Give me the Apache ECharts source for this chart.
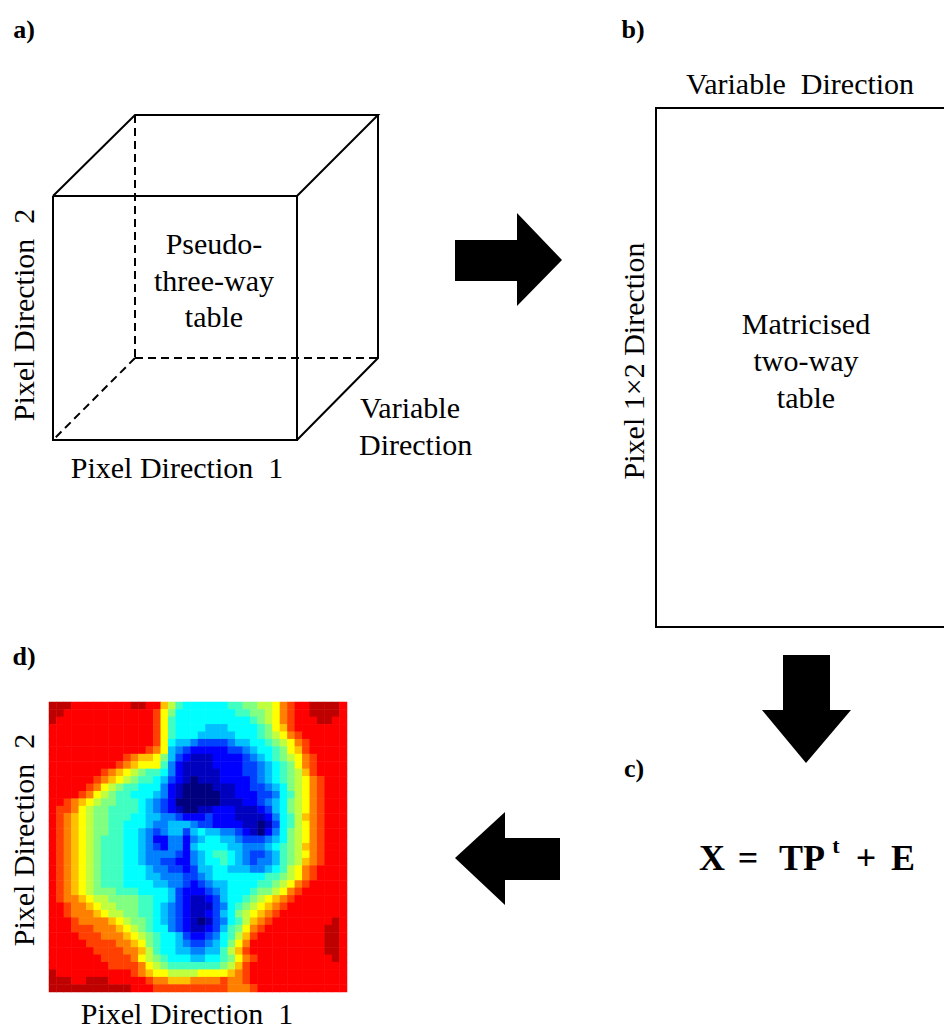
<!DOCTYPE html>
<html>
<head>
<meta charset="utf-8">
<script src="https://cdn.jsdelivr.net/npm/echarts@6/dist/echarts.min.js"></script>
<style>
  html, body { margin: 0; padding: 0; background: #ffffff; }
  #main { width: 944px; height: 1031px; }
</style>
</head>
<body>
<div id="main"></div>
<script>
// Score map of panel d): one string per image row (top to bottom), one hex digit per pixel column.
// 0 = lowest (deep blue) ... f = highest (dark red). Spaces are only for readability.
const scoreRows = [
  "fffee eeeee effee b97 66666 67 788 99 a c d ee ffff e",
  "ffeee eeeee eeeed a86 66666 66 778 89 a c d ee ffff e",
  "feeee eeeee eeeed a76 66666 66 667 89 a c d ee effe e",
  "eeeee eeeee eeeed a76 66655 56 666 78 a b d ee eeee e",
  "eeeee eeeee eeeed a76 66555 55 666 78 9 a c de eeee e",
  "eeeee eeeee eeeed a65 54333 34 556 67 8 9 a cd eeee e",
  "eeeee eeeee eeedc a54 32222 23 345 66 7 8 a bd eeee e",
  "eeeee eeeee dcbba 853 21112 22 234 56 7 8 9 ac deee e",
  "eeeee eeeed cbaaa 742 11112 22 233 45 6 7 8 ac deee e",
  "eeeee eedcb a9877 642 11111 22 233 45 6 7 8 9b deee e",
  "eeeee edcba 98776 532 10111 22 223 45 6 7 8 9a cdee e",
  "eeeee dca98 77666 421 00001 11 223 34 5 6 8 9a cdee e",
  "eeeed ca987 76665 421 00000 11 222 33 4 6 7 9a cdee e",
  "eedcb a9887 77654 320 00000 11 122 34 5 6 8 9a cdee e",
  "eddca 98877 77654 321 00112 22 111 23 5 6 8 9a cdee e",
  "edcba 98877 76655 443 22232 22 111 12 4 6 7 9b cdee e",
  "edcba 98877 66654 455 54332 22 211 01 3 6 7 9a cdee e",
  "edcba 98877 66543 455 35655 44 321 02 4 6 8 9a cdee e",
  "edcba 98777 66542 244 24566 55 433 34 5 6 8 9a cdee e",
  "edcba 98777 66543 244 25666 65 544 45 6 7 8 9b cdee e",
  "edcba 98777 66544 443 24567 76 543 34 5 7 8 9a cdee e",
  "edcba 98777 66544 332 24566 76 543 44 5 7 8 9b cdee e",
  "edcba 98777 66654 433 23556 65 554 45 6 7 9 ac deee e",
  "edcba 98777 66655 444 33456 66 666 67 7 8 9 ac deee e",
  "edcba 98777 66665 544 32345 56 666 77 8 9 a cd eeee e",
  "edcba 98887 77666 653 22234 56 667 88 9 a c de eeee e",
  "edccb a9988 88776 653 21123 56 678 9a b c d ee eeee e",
  "eedcc ba998 88776 543 21113 46 789 ab c d e ee eeee e",
  "eedcc cba99 88776 543 21123 56 89a bc d e e ee eeee e",
  "eeedc cccba 98876 543 21013 46 79b cd e e e ee eeef e",
  "eeedd dcccb a9876 643 21123 57 8ac de e e e ee eeff e",
  "eeeed ddccc ba987 665 32234 67 9bd ee e e e ee eeff e",
  "eeeee ddddc cba87 665 43345 68 ace ee e e e ee eeff e",
  "eeeee edddd ccb97 665 54455 79 bde ee e e e ee eeff e",
  "eeeee eeddd dca98 766 65566 78 acd ee e e e ee eeef e",
  "eeeee eeedd ddca9 877 77777 89 bde ee e e e ee eeee e",
  "feeee eeeee edcba a99 99aaa ab cde ee e e e ee eeee e",
  "fffee fffee eeedc cbb bcccc dc cde ee e e e ee eeee e",
  "fffff fffff feeed ddd ddddd dc ccd ee e e e ee eeee e"
];

// Jet colour ramp used for the score map (low -> high).
const jetRamp = ['#00007f', '#0000ff', '#0080ff', '#00ffff', '#80ff80',
                 '#ffff00', '#ff8000', '#ff0000', '#7f0000'];
const scoreMin = 0;
const scoreMax = 16;

// Text shown in the diagram.
const panelTags = ['a)', 'b)', 'c)', 'd)'];
const cubeText = ['Pseudo-', 'three-way', 'table'];
const matrixText = ['Matricised', 'two-way', 'table'];
const pixelDir1 = 'Pixel Direction  1';
const pixelDir2 = 'Pixel Direction  2';
const variableDir = 'Variable  Direction';
const variableDirStacked = ['Variable', 'Direction'];
const pixel12Dir = 'Pixel 1\u00d72 Direction';
const modelParts = ['X', '=', 'TP', 't', '+', 'E'];

// ---- build heatmap triples from the row strings ----
const cleanRows = scoreRows.map(r => r.replace(/\s+/g, ''));
const nRows = cleanRows.length;
const nCols = cleanRows[0].length;
const heatData = [];
cleanRows.forEach((row, r) => {
  for (let c = 0; c < row.length; c++) {
    heatData.push([c, r, parseInt(row[c], 16)]);
  }
});
const colIds = Array.from({ length: nCols }, (_, i) => String(i));
const rowIds = Array.from({ length: nRows }, (_, i) => String(i));

// ---- drawing helpers ----
const SERIF = '"Liberation Serif", "Times New Roman", serif';
const ink = '#000000';

function label(text, x, y, opts) {
  opts = opts || {};
  return {
    type: 'text',
    x: x, y: y,
    rotation: opts.rotation || 0,
    silent: true,
    style: {
      text: text,
      font: opts.font || ('30px ' + SERIF),
      fill: ink,
      textAlign: opts.align || 'center',
      align: opts.align || 'center',
      textVerticalAlign: 'middle',
      verticalAlign: 'middle'
    }
  };
}
function seg(points, dashed) {
  return {
    type: 'polyline',
    silent: true,
    shape: { points: points },
    style: { stroke: ink, lineWidth: 2, fill: null, lineDash: dashed ? [8, 5] : null }
  };
}
function block(points) {
  return { type: 'polygon', silent: true, shape: { points: points }, style: { fill: ink } };
}

const tagFont = 'bold 26px ' + SERIF;
const eqFont = 'bold 36px ' + SERIF;
const supFont = 'bold 22px ' + SERIF;
const graphics = [
  // panel tags
  label(panelTags[0], 24, 29, { font: tagFont }),
  label(panelTags[1], 633, 29, { font: tagFont }),
  label(panelTags[2], 634, 768, { font: tagFont }),
  label(panelTags[3], 24, 656, { font: tagFont }),

  // a) cube: hidden edges dashed
  seg([[135, 115], [135, 358]], true),
  seg([[135, 358], [378, 358]], true),
  seg([[135, 358], [53, 440]], true),
  // a) cube: visible edges
  seg([[53, 196], [297, 196], [297, 440], [53, 440], [53, 196]]),
  seg([[53, 196], [135, 115], [378, 115], [297, 196]]),
  seg([[378, 115], [378, 358], [297, 440]]),

  label(cubeText[0], 214, 243),
  label(cubeText[1], 214, 280),
  label(cubeText[2], 214, 316),
  label(pixelDir2, 23, 315, { rotation: Math.PI / 2 }),
  label(pixelDir1, 177, 467),
  label(variableDirStacked[0], 360, 407, { align: 'left' }),
  label(variableDirStacked[1], 359, 444, { align: 'left' }),

  // arrow a) -> b)
  block([[455, 240], [517, 240], [517, 213], [562, 260], [517, 306], [517, 281], [455, 281]]),

  // b) matricised table
  {
    type: 'rect', silent: true,
    shape: { x: 656, y: 108, width: 320, height: 519 },
    style: { stroke: ink, lineWidth: 2, fill: null }
  },
  label(variableDir, 800, 83),
  label(pixel12Dir, 633, 361, { rotation: Math.PI / 2 }),
  label(matrixText[0], 806, 323),
  label(matrixText[1], 806, 360),
  label(matrixText[2], 806, 397),

  // arrow b) -> c)
  block([[783, 655], [830, 655], [830, 710], [851, 710], [806, 763], [762, 710], [783, 710]]),

  // c) decomposition  X = TP^t + E
  label(modelParts[0], 712, 858, { font: eqFont }),
  label(modelParts[1], 748, 858, { font: eqFont }),
  label(modelParts[2], 802, 858, { font: eqFont }),
  label(modelParts[3], 836, 845, { font: supFont }),
  label(modelParts[4], 866, 858, { font: eqFont }),
  label(modelParts[5], 903, 858, { font: eqFont }),

  // arrow c) -> d)
  block([[560, 838], [505, 838], [505, 812], [455, 858], [505, 905], [505, 880], [560, 880]]),

  // d) axis captions
  label(pixelDir2, 23, 840, { rotation: Math.PI / 2 }),
  label(pixelDir1, 187, 1013)
];

const chart = echarts.init(document.getElementById('main'), null, { renderer: 'svg' });
chart.setOption({
  animation: false,
  backgroundColor: '#ffffff',
  grid: { left: 49, top: 702, width: 298, height: 290 },
  xAxis: { type: 'category', data: colIds, show: false },
  yAxis: { type: 'category', data: rowIds, inverse: true, show: false },
  visualMap: {
    show: false, type: 'continuous', dimension: 2,
    min: scoreMin, max: scoreMax,
    inRange: { color: jetRamp }
  },
  series: [{
    type: 'heatmap',
    data: heatData,
    silent: true,
    itemStyle: { borderWidth: 0 },
    emphasis: { disabled: true }
  }],
  graphic: graphics
});
</script>
</body>
</html>
